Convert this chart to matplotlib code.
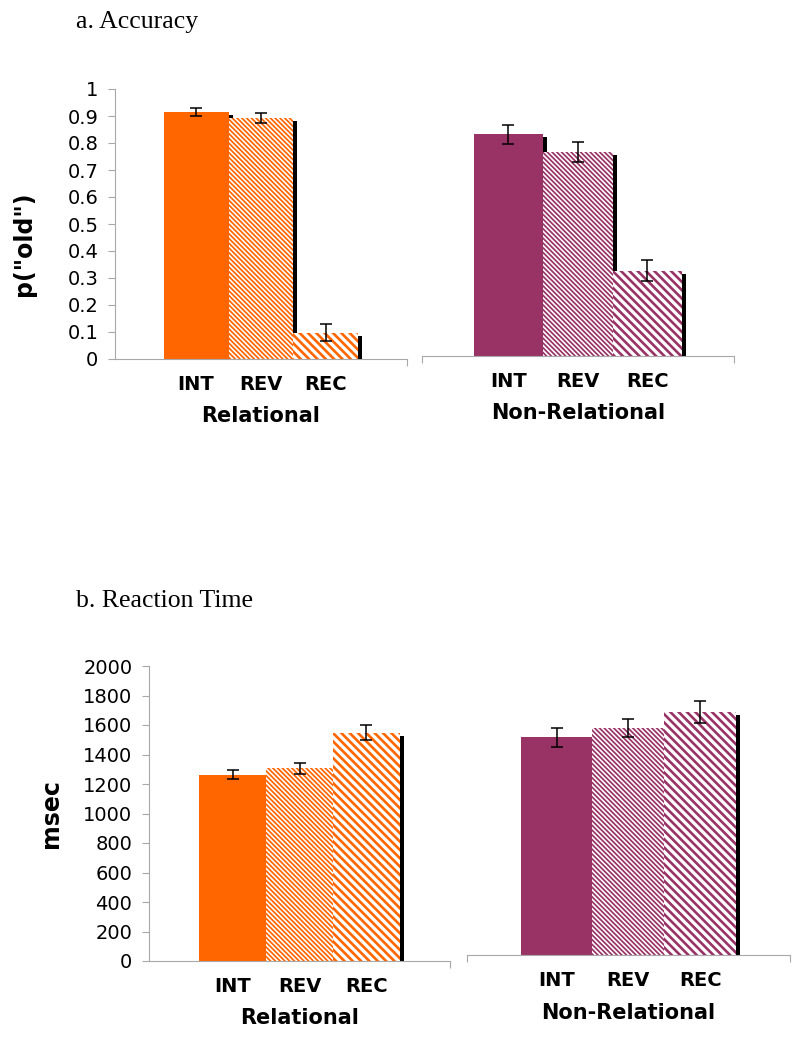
import matplotlib
matplotlib.use('Agg')
import matplotlib.pyplot as plt
import matplotlib.transforms as mtransforms

# conditions and data
conditions = ['INT', 'REV', 'REC']
groups = ['Relational', 'Non-Relational']

acc_rel = [0.915, 0.892, 0.098]
acc_rel_err = [0.016, 0.019, 0.031]
acc_nonrel = [0.82, 0.755, 0.315]
acc_nonrel_err = [0.035, 0.038, 0.040]

rt_rel = [1264, 1306, 1548]
rt_rel_err = [33, 38, 50]
rt_nonrel = [1478, 1542, 1650]
rt_nonrel_err = [64, 63, 75]

acc_ticks = [0, 0.1, 0.2, 0.3, 0.4, 0.5, 0.6, 0.7, 0.8, 0.9, 1]
rt_ticks = [0, 200, 400, 600, 800, 1000, 1200, 1400, 1600, 1800, 2000]

ORANGE = '#FF6600'
MAROON = '#993366'
GREY = '#A8A8A8'
W, H = 800, 1038

# INT solid, REV fine stripes, REC wide stripes
hatches = [None, '\\' * 7, '\\' * 4]
hatch_lw = [1.0, 1.25, 1.9]


def px_rect(x0, x1, ytop, ybot):
    # axes rectangle from pixel coords of the figure
    return [x0 / W, 1 - ybot / H, (x1 - x0) / W, (ybot - ytop) / H]


def draw_panel(fig, rect, vals, errs, color, ylim, group, with_yaxis, ticks=None):
    ax = fig.add_axes(rect)
    x = list(range(len(vals)))
    shadow = mtransforms.offset_copy(ax.transData, fig=fig, x=4, y=-3, units='dots')
    for i in x:
        # black drop shadow, then the bar on top
        ax.bar(i, vals[i], width=1.0, color='black', linewidth=0, transform=shadow, zorder=1)
        if hatches[i] is None:
            ax.bar(i, vals[i], width=1.0, color=color, linewidth=0, zorder=2)
        else:
            with plt.rc_context({'hatch.linewidth': hatch_lw[i]}):
                b = ax.bar(i, vals[i], width=1.0, facecolor='white', edgecolor=color,
                           linewidth=0, hatch=hatches[i], zorder=2)
            for p in b:
                if hasattr(p, 'set_hatch_linewidth'):
                    p.set_hatch_linewidth(hatch_lw[i])
    ax.errorbar(x, vals, yerr=errs, fmt='none', ecolor='black', elinewidth=1.1,
                capsize=4.5, capthick=1.1, zorder=3)

    ax.set_xlim(-1.25, 3.25)
    ax.set_ylim(*ylim)
    for s in ['top', 'right']:
        ax.spines[s].set_visible(False)
    ax.spines['bottom'].set_color(GREY)
    ax.spines['bottom'].set_linewidth(0.8)
    ax.set_xticks(x)
    ax.set_xticklabels(conditions, fontsize=14, fontweight='bold')
    ax.tick_params(axis='x', length=0, pad=11.5)
    ax.set_xticks([3.25] if with_yaxis else [-1.25, 3.25], minor=True)
    ax.tick_params(axis='x', which='minor', length=5, color=GREY, width=0.8)
    ax.set_xlabel(group, fontsize=15, fontweight='bold', labelpad=9)
    if with_yaxis:
        ax.spines['left'].set_color(GREY)
        ax.spines['left'].set_linewidth(0.8)
        ax.set_yticks(ticks)
        ax.set_yticklabels([f'{t:g}' for t in ticks], fontsize=14)
        ax.tick_params(axis='y', length=5, color=GREY, width=0.8, pad=7)
    else:
        ax.spines['left'].set_visible(False)
        ax.set_yticks([])
    return ax


fig = plt.figure(figsize=(8, 10.38), dpi=100)

draw_panel(fig, px_rect(115, 407, 89, 359), acc_rel, acc_rel_err, ORANGE,
           (0, 1), groups[0], True, acc_ticks)
draw_panel(fig, px_rect(421.7, 734, 85.7, 355.7), acc_nonrel, acc_nonrel_err, MAROON,
           (0, 1), groups[1], False)
draw_panel(fig, px_rect(149, 450, 666, 961), rt_rel, rt_rel_err, ORANGE,
           (0, 2000), groups[0], True, rt_ticks)
draw_panel(fig, px_rect(466.7, 790, 660.3, 955.3), rt_nonrel, rt_nonrel_err, MAROON,
           (0, 2000), groups[1], False)

fig.text(24 / W, 1 - 244 / H, 'p("old")', rotation=90, ha='center', va='center',
         fontsize=17, fontweight='bold')
fig.text(51 / W, 1 - 814 / H, 'msec', rotation=90, ha='center', va='center',
         fontsize=17, fontweight='bold')

fig.text(76 / W, 1 - 28 / H, 'a. Accuracy', fontsize=18.5, family='Liberation Serif',
         va='baseline', ha='left')
fig.text(76 / W, 1 - 607 / H, 'b. Reaction Time', fontsize=18.5, family='Liberation Serif',
         va='baseline', ha='left')

fig.savefig('out.png', dpi=100, facecolor='white')
